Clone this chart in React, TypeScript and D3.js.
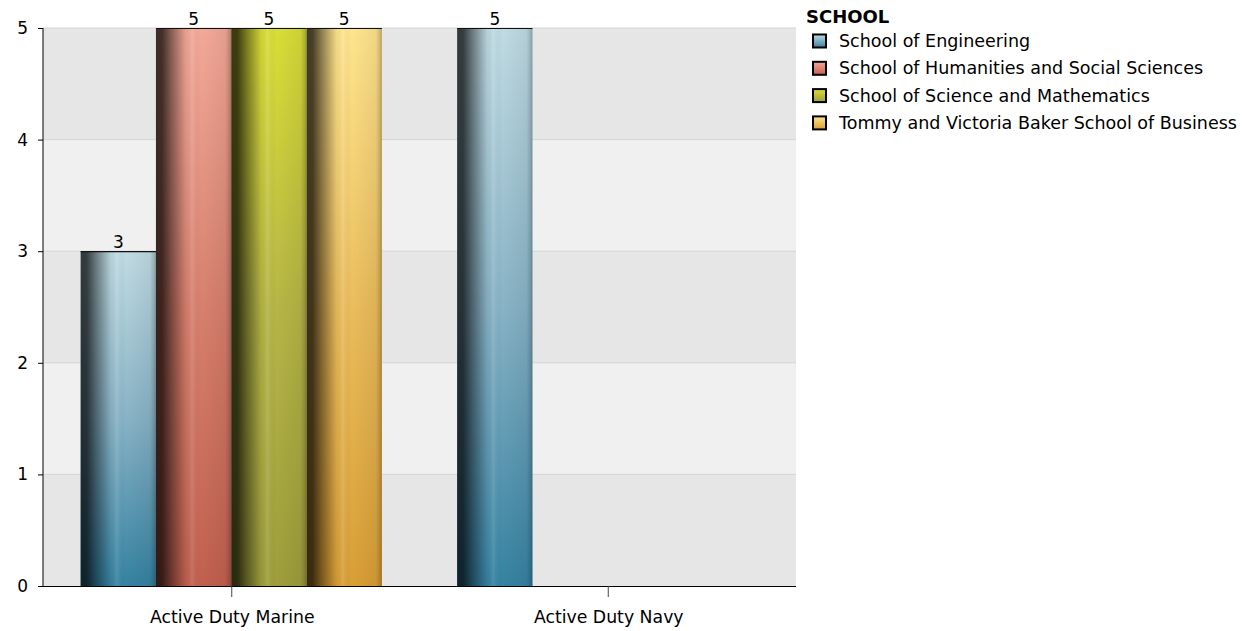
import React from "react";
import * as d3 from "d3";

const categories = ["Active Duty Marine", "Active Duty Navy"];
const seriesNames = [
  "School of Engineering",
  "School of Humanities and Social Sciences",
  "School of Science and Mathematics",
  "Tommy and Victoria Baker School of Business",
];
const marineValues = [3, 5, 5, 5];
const navyValues = [5, null, null, null];
const yTicks = [0, 1, 2, 3, 4, 5];
const legendTitle = "SCHOOL";

const seriesColors = [
  { top: "#c0dbe3", mid: "#88b3c6", bottom: "#3582a2" },
  { top: "#f3a998", mid: "#d8806e", bottom: "#c2604f" },
  { top: "#dade36", mid: "#b6b646", bottom: "#9e9e3c" },
  { top: "#ffe58e", mid: "#ebbd5c", bottom: "#d99f36" },
];

const W = 1243;
const H = 631;
const margin = { left: 43, right: 447, top: 28, bottom: 45 };
const FONT = "DejaVu Sans, Verdana, sans-serif";

export default function App() {
  const plotW = W - margin.left - margin.right;
  const plotBottom = H - margin.bottom;
  const x0 = d3.scaleBand().domain(categories).range([margin.left, margin.left + plotW]).paddingInner(0.2).paddingOuter(0.1);
  const x1 = d3.scaleBand().domain(seriesNames).range([0, x0.bandwidth()]);
  const y = d3.scaleLinear().domain([0, 5]).range([plotBottom, margin.top]);
  const xc = d3.scaleBand().domain(categories).range([margin.left, margin.left + plotW]);

  const data = [marineValues, navyValues];

  const bands = yTicks.slice(0, -1).map((t) => ({ t, y0: y(t + 1), y1: y(t) }));

  return (
    <svg width={W} height={H} style={{ position: "absolute", left: 0, top: 0, background: "#fff" }} fontFamily={FONT}>
      <defs>
        {seriesColors.map((c, i) => (
          <linearGradient key={"v" + i} id={"vg" + i} x1="0" y1="0" x2="0" y2="1">
            <stop offset="0%" stopColor={c.top} />
            <stop offset="50%" stopColor={c.mid} />
            <stop offset="100%" stopColor={c.bottom} />
          </linearGradient>
        ))}
        {seriesColors.map((c, i) => (
          <linearGradient key={"l" + i} id={"lg" + i} x1="0" y1="0" x2="0" y2="1">
            <stop offset="0%" stopColor={c.top} />
            <stop offset="100%" stopColor={c.bottom} />
          </linearGradient>
        ))}
        <linearGradient id="shade" x1="0" y1="0" x2="1" y2="0">
          <stop offset="0%" stopColor="#000" stopOpacity={0.74} />
          <stop offset="8%" stopColor="#000" stopOpacity={0.72} />
          <stop offset="20%" stopColor="#000" stopOpacity={0.45} />
          <stop offset="40%" stopColor="#000" stopOpacity={0.05} />
          <stop offset="48%" stopColor="#fff" stopOpacity={0.1} />
          <stop offset="60%" stopColor="#000" stopOpacity={0} />
          <stop offset="92%" stopColor="#000" stopOpacity={0.06} />
          <stop offset="97%" stopColor="#000" stopOpacity={0.18} />
          <stop offset="100%" stopColor="#000" stopOpacity={0.3} />
        </linearGradient>
      </defs>

      {bands.map((b) => (
        <rect key={b.t} x={margin.left} y={b.y0} width={plotW} height={b.y1 - b.y0} fill={b.t % 2 === 0 ? "#e6e6e6" : "#f0f0f0"} />
      ))}
      {yTicks.slice(1).map((t) => (
        <line key={t} x1={margin.left} x2={margin.left + plotW} y1={y(t)} y2={y(t)} stroke="#d4d4d4" strokeWidth={1} />
      ))}

      {categories.map((cat, ci) =>
        data[ci].map((v, si) => {
          if (v == null) return null;
          const bx = (x0(cat) as number) + (x1(seriesNames[si]) as number);
          const bw = x1.bandwidth();
          const by = y(v);
          const bh = plotBottom - by;
          return (
            <g key={cat + si}>
              <rect x={bx} y={by} width={bw} height={bh} fill={`url(#vg${si})`} />
              <rect x={bx} y={by} width={bw} height={bh} fill="url(#shade)" />
              <line x1={bx} x2={bx + bw} y1={by + 0.5} y2={by + 0.5} stroke="#111" strokeWidth={1.2} />
              <text x={bx + bw / 2} y={by - 3} textAnchor="middle" fontSize={17} fill="#000">{v}</text>
            </g>
          );
        })
      )}

      <line x1={margin.left} x2={margin.left} y1={margin.top} y2={plotBottom} stroke="#000" />
      <line x1={margin.left - 5} x2={margin.left + plotW} y1={plotBottom + 0.5} y2={plotBottom + 0.5} stroke="#000" />
      {yTicks.map((t) => (
        <g key={t}>
          <line x1={margin.left - 5} x2={margin.left} y1={y(t) + 0.5} y2={y(t) + 0.5} stroke="#000" />
          <text x={28} y={y(t)} dy="0.35em" textAnchor="end" fontSize={17} fill="#000">{t}</text>
        </g>
      ))}
      {categories.map((cat) => {
        const cx = (xc(cat) as number) + xc.bandwidth() / 2;
        return (
          <g key={cat}>
            <line x1={cx + 0.5} x2={cx + 0.5} y1={plotBottom} y2={plotBottom + 11} stroke="#444" />
            <text x={cx + 1} y={623} textAnchor="middle" fontSize={17.3} fill="#000">{cat}</text>
          </g>
        );
      })}

      <text x={806} y={23} fontSize={18} fontWeight="bold" fill="#000">{legendTitle}</text>
      {seriesNames.map((s, i) => {
        const ry = 41 + i * 27.3;
        return (
          <g key={s}>
            <rect x={813} y={ry - 6.5} width={13} height={13} fill={`url(#lg${i})`} stroke="#000" strokeWidth={2} />
            <text x={839} y={ry} dy="0.35em" fontSize={17.5} fill="#000">{s}</text>
          </g>
        );
      })}
    </svg>
  );
}
